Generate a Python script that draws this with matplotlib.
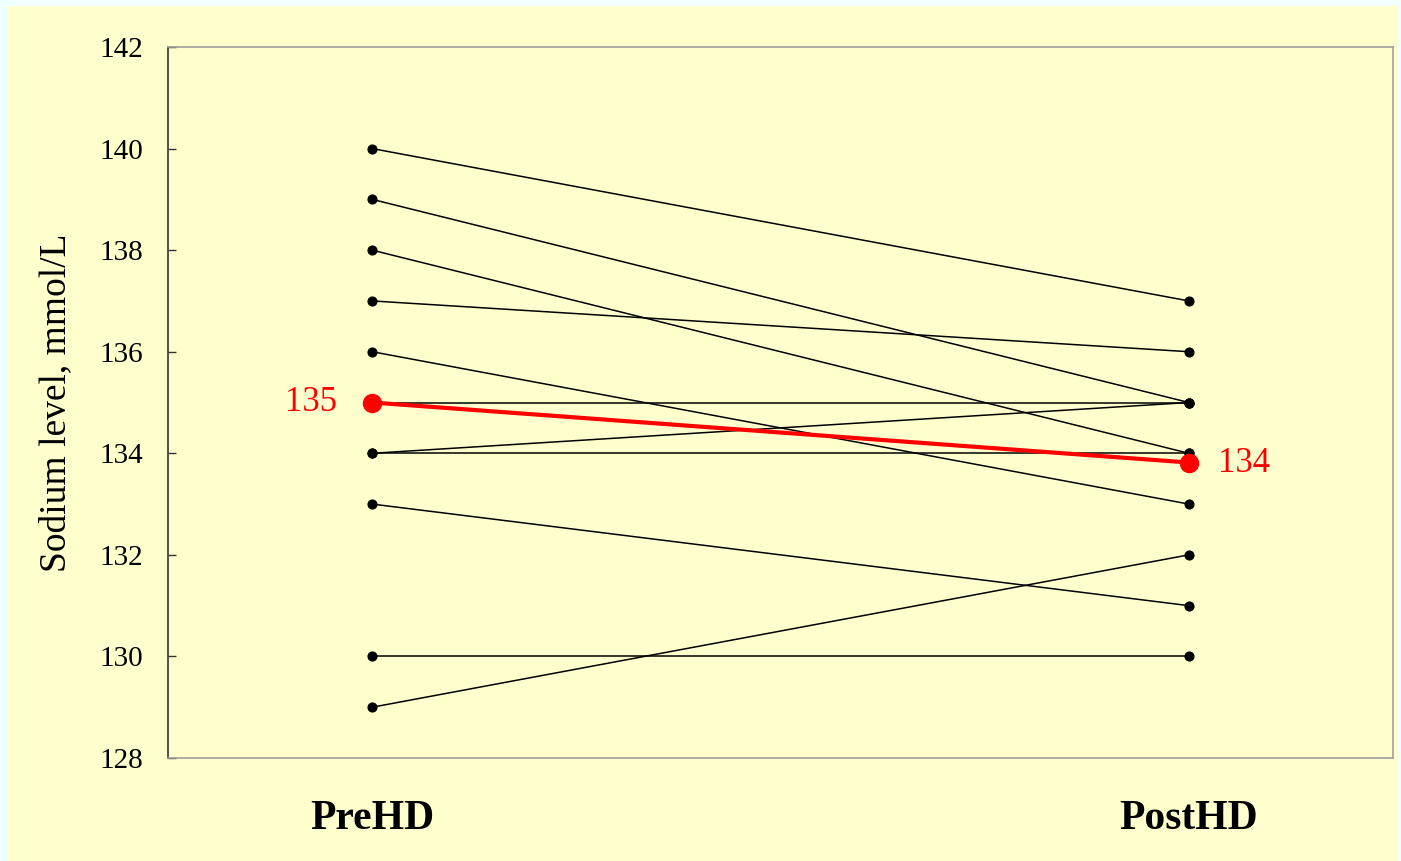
import matplotlib
matplotlib.use("Agg")
import matplotlib.pyplot as plt
import numpy as np
from matplotlib.patches import Rectangle

# serum sodium per patient, before and after haemodialysis
pre_hd = [140, 139, 138, 137, 136, 135, 134, 134, 133, 130, 129]
post_hd = [137, 135, 134, 136, 133, 135, 135, 134, 131, 130, 132]
phases = ["PreHD", "PostHD"]
y_ticks = [128, 130, 132, 134, 136, 138, 140, 142]

bg = "#FFFFCE"
serif = ["Liberation Serif", "DejaVu Serif"]
plt.rcParams["font.family"] = serif

fig = plt.figure(figsize=(14.01, 8.61), dpi=100, facecolor="#F0FFFF")
# pale panel behind everything
fig.patches.append(Rectangle((8 / 1401, 0), (1398 - 8) / 1401, 1 - 6 / 861,
                             transform=fig.transFigure, facecolor=bg,
                             edgecolor="none", zorder=-5))

ax = fig.add_axes([168 / 1401, 1 - 758 / 861, (1393 - 168) / 1401, (758 - 47) / 861])
ax.set_facecolor(bg)

x = [0, 1]
for a, b in zip(pre_hd, post_hd):
    ax.plot(x, [a, b], color="black", lw=1.1, marker="o", ms=6.3,
            mfc="black", mec="black", zorder=2)

mean_pre = np.mean(pre_hd)
mean_post = np.mean(post_hd)
ax.plot(x, [mean_pre, mean_post], color="#FF0000", lw=3, marker="o", ms=13,
        mfc="#FF0000", mec="#FF0000", zorder=3)
ax.annotate(f"{mean_pre:.0f}", (0, mean_pre), xytext=(-25, 0), textcoords="offset points",
            ha="right", va="center", color="#FF0000", fontsize=25)
ax.annotate(f"{mean_post:.0f}", (1, mean_post), xytext=(21, -1), textcoords="offset points",
            ha="left", va="center", color="#FF0000", fontsize=25)

ax.set_xlim(-0.25, 1.25)
ax.set_ylim(128, 142)
ax.set_yticks(y_ticks)
ax.tick_params(axis="y", direction="in", length=6, width=1, color="#333333",
               labelsize=21, pad=18)
ax.set_xticks(x, phases, fontsize=30, fontweight="bold")
ax.tick_params(axis="x", length=0, pad=30)
ax.get_xticklabels()[1].set_x(0.99)

for side in ["top", "right", "bottom"]:
    ax.spines[side].set_color("#A0A0A0")
    ax.spines[side].set_linewidth(1.2)
ax.spines["left"].set_color("#333333")
ax.spines["left"].set_linewidth(1.2)

ax.set_ylabel("Sodium level, mmol/L", fontsize=27)
ax.yaxis.set_label_coords(-0.077, 0.5)

fig.savefig("out.png", dpi=100, facecolor=fig.get_facecolor())
